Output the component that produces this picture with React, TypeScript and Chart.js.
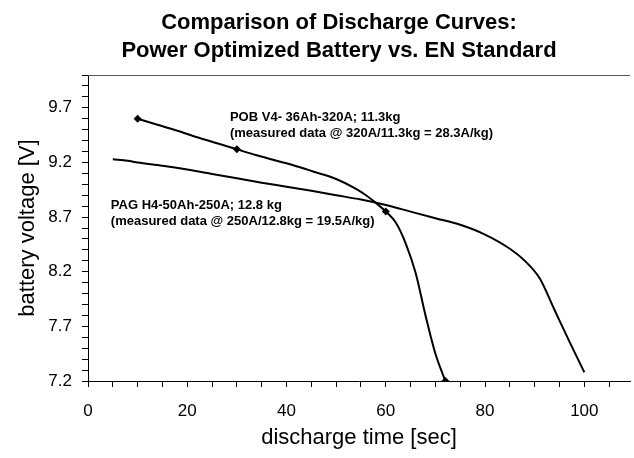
import React, { useEffect, useRef } from 'react';
import { Chart, registerables } from 'chart.js';

Chart.register(...registerables);

const titleLines = ['Comparison of Discharge Curves:', 'Power Optimized Battery vs. EN Standard'];
const xAxisTitle = 'discharge time [sec]';
const yAxisTitle = 'battery voltage [V]';

// POB V4 series (seconds, volts)
const pobTime = [10, 14, 18, 22, 26, 30, 34, 38, 42, 46, 50, 54, 56, 58, 60, 62, 64, 66, 68, 70, 72];
const pobVoltage = [9.6, 9.545, 9.49, 9.43, 9.375, 9.32, 9.265, 9.215, 9.165, 9.108, 9.048, 8.958, 8.9, 8.83, 8.75, 8.65, 8.46, 8.19, 7.8, 7.45, 7.2];
const pobMarkerTimes = [10, 30, 60, 72];

// PAG H4 series (seconds, volts)
const pagTime = [5, 8, 10, 15, 20, 25, 30, 35, 40, 45, 50, 55, 60, 65, 70, 75, 80, 85, 88, 91, 94, 97, 100];
const pagVoltage = [9.23, 9.215, 9.2, 9.17, 9.135, 9.095, 9.055, 9.015, 8.978, 8.94, 8.9, 8.86, 8.81, 8.75, 8.69, 8.63, 8.54, 8.41, 8.3, 8.14, 7.85, 7.56, 7.28];

const pobLabel = ['POB V4- 36Ah-320A; 11.3kg', '(measured data @ 320A/11.3kg = 28.3A/kg)'];
const pagLabel = ['PAG H4-50Ah-250A; 12.8 kg', '(measured data @ 250A/12.8kg = 19.5A/kg)'];
const pobLabelAt = [28.6, 9.613];
const pagLabelAt = [4.6, 8.81];

const xMin = 0;
const xMax = 109.2;
const xStep = 5;
const xLabels = [0, 20, 40, 60, 80, 100];
const yMin = 7.2;
const yMax = 10.0;
const yStep = 0.1;
const yLabels = [7.2, 7.7, 8.2, 8.7, 9.2, 9.7];

const FONT = '"Liberation Sans", Arial, sans-serif';

export default function App() {
  const ref = useRef<HTMLCanvasElement>(null);

  useEffect(() => {
    document.body.style.margin = '0';
    const canvas = ref.current;
    if (!canvas) return;

    const overlay = {
      id: 'overlay',
      afterDraw(chart: any) {
        const { ctx, chartArea, scales } = chart;
        ctx.save();
        // top frame line
        ctx.strokeStyle = '#555';
        ctx.lineWidth = 1;
        ctx.beginPath();
        ctx.moveTo(chartArea.left, chartArea.top + 0.5);
        ctx.lineTo(chartArea.right, chartArea.top + 0.5);
        ctx.stroke();
        // title
        ctx.fillStyle = '#000';
        ctx.font = `bold 22px ${FONT}`;
        ctx.textAlign = 'center';
        ctx.textBaseline = 'alphabetic';
        ctx.fillText(titleLines[0], 339, 28.5);
        ctx.fillText(titleLines[1], 339, 56.5);
        // annotations
        ctx.font = `bold 13px ${FONT}`;
        ctx.textAlign = 'left';
        ctx.textBaseline = 'middle';
        const drawLabel = (lines: string[], at: number[]) => {
          const x = scales.x.getPixelForValue(at[0]);
          const y = scales.y.getPixelForValue(at[1]);
          lines.forEach((l, i) => ctx.fillText(l, x, y + i * 16.5));
        };
        drawLabel(pobLabel, pobLabelAt);
        drawLabel(pagLabel, pagLabelAt);
        ctx.restore();
      },
    };

    const chart = new Chart(canvas, {
      type: 'line',
      data: {
        datasets: [
          {
            label: 'POB V4',
            data: pobTime.map((t, i) => ({ x: t, y: pobVoltage[i] })),
            borderColor: '#000',
            backgroundColor: '#000',
            borderWidth: 2,
            pointStyle: 'rectRot',
            pointRadius: pobTime.map((t) => (pobMarkerTimes.includes(t) ? 4 : 0)),
            pointBorderWidth: 0,
            cubicInterpolationMode: 'monotone',
          },
          {
            label: 'PAG H4',
            data: pagTime.map((t, i) => ({ x: t, y: pagVoltage[i] })),
            borderColor: '#000',
            backgroundColor: '#000',
            borderWidth: 2,
            pointRadius: 0,
            cubicInterpolationMode: 'monotone',
          },
        ],
      },
      options: {
        responsive: false,
        animation: false,
        devicePixelRatio: 1,
        layout: { padding: { top: 75, left: 0, right: 0, bottom: 0 } },
        plugins: {
          legend: { display: false },
          tooltip: { enabled: false },
          title: { display: false },
        },
        scales: {
          x: {
            type: 'linear',
            min: xMin,
            max: xMax,
            afterFit: (s: any) => {
              s.height = 77;
            },
            afterBuildTicks: (s: any) => {
              const t = [];
              for (let v = xMin; v <= xMax + 1e-9; v += xStep) t.push({ value: v });
              s.ticks = t;
            },
            ticks: {
              autoSkip: false,
              maxRotation: 0,
              padding: 14,
              color: '#000',
              font: { family: FONT, size: 17 },
              callback: (v: any) => (xLabels.includes(Number(v)) ? String(v) : ''),
            },
            grid: { drawOnChartArea: false, drawTicks: true, tickLength: 6, color: '#000' },
            border: { display: true, color: '#000', width: 1 },
            title: {
              display: true,
              text: xAxisTitle,
              color: '#000',
              font: { family: FONT, size: 22 },
              padding: { top: 0, bottom: 7 },
            },
          },
          y: {
            type: 'linear',
            min: yMin,
            max: yMax,
            afterFit: (s: any) => {
              s.width = 88;
            },
            afterBuildTicks: (s: any) => {
              const t = [];
              const n = Math.round((yMax - yMin) / yStep);
              for (let i = 0; i <= n; i++) t.push({ value: Math.round((yMin + i * yStep) * 10) / 10 });
              s.ticks = t;
            },
            ticks: {
              autoSkip: false,
              padding: 10,
              color: '#000',
              font: { family: FONT, size: 17 },
              callback: (v: any) => {
                const n = Number(v);
                return yLabels.some((l) => Math.abs(l - n) < 1e-6) ? n.toFixed(1) : '';
              },
            },
            grid: { drawOnChartArea: false, drawTicks: true, tickLength: 6, color: '#000' },
            border: { display: true, color: '#000', width: 1 },
            title: {
              display: true,
              text: yAxisTitle,
              color: '#000',
              font: { family: FONT, size: 22 },
              padding: { top: 15, bottom: 0 },
            },
          },
        },
      },
      plugins: [overlay],
    });

    return () => chart.destroy();
  }, []);

  return <canvas ref={ref} width={634} height={458} style={{ display: 'block' }} />;
}
